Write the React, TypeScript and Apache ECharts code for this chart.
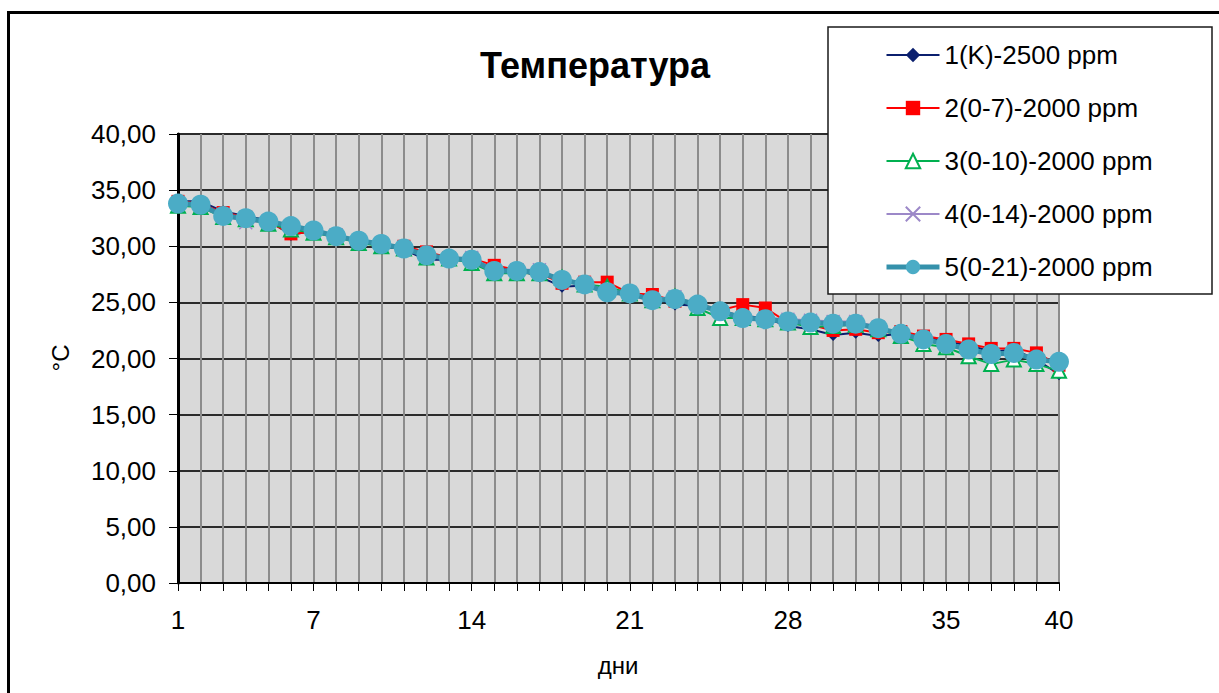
import { useEffect, useRef } from "react";
import * as echarts from "echarts";

// Days of the experiment (category axis)
const days = [
  "1", "2", "3", "4", "5", "6", "7", "8", "9", "10",
  "11", "12", "13", "14", "15", "16", "17", "18", "19", "20",
  "21", "22", "23", "24", "25", "26", "27", "28", "29", "30",
  "31", "32", "33", "34", "35", "36", "37", "38", "39", "40",
];
// Day labels printed under the axis
const labeledDays = ["1", "7", "14", "21", "28", "35", "40"];

// Temperature axis range, °C
const yMin = 0;
const yMax = 40;
const yStep = 5;

const seriesNames = [
  "1(K)-2500 ppm",
  "2(0-7)-2000 ppm",
  "3(0-10)-2000 ppm",
  "4(0-14)-2000 ppm",
  "5(0-21)-2000 ppm",
];

// Daily temperatures, °C
const tempK2500 = [
  34.0, 34.0, 33.1, 32.7, 32.3, 31.0, 31.4, 31.0, 30.5, 30.0,
  29.7, 28.8, 28.8, 28.7, 28.1, 27.9, 27.3, 26.4, 26.5, 26.0,
  25.5, 25.4, 24.8, 24.7, 24.2, 23.8, 23.6, 22.9, 22.6, 22.1,
  22.3, 22.0, 22.2, 22.0, 21.5, 21.2, 20.6, 20.8, 19.9, 18.6,
];
const temp0to7 = [
  34.0, 33.8, 33.0, 32.6, 32.2, 31.1, 31.3, 31.0, 30.5, 30.2,
  30.0, 29.5, 29.0, 28.9, 28.3, 27.9, 27.6, 26.7, 26.8, 26.8,
  25.8, 25.7, 25.1, 24.9, 24.3, 24.8, 24.5, 23.2, 23.0, 22.5,
  22.6, 22.3, 22.4, 22.0, 21.7, 21.3, 20.9, 20.9, 20.5, 19.4,
];
const temp0to10 = [
  33.6, 33.5, 32.6, 32.4, 32.0, 31.5, 31.2, 30.8, 30.3, 30.0,
  29.8, 29.0, 28.9, 28.5, 27.6, 27.6, 27.6, 27.2, 26.6, 26.4,
  25.8, 25.2, 25.5, 24.5, 23.6, 23.6, 23.5, 23.2, 22.8, 22.9,
  23.0, 22.6, 22.0, 21.3, 21.0, 20.2, 19.5, 19.9, 19.5, 18.9,
];
const temp0to14 = [
  33.8, 33.7, 32.8, 32.1, 32.3, 31.8, 31.4, 31.0, 30.5, 30.2,
  29.9, 29.2, 28.9, 29.0, 27.9, 27.9, 27.9, 27.0, 26.7, 26.0,
  25.9, 25.3, 25.5, 24.8, 24.2, 23.6, 23.6, 23.5, 23.4, 23.3,
  23.3, 22.8, 22.2, 21.7, 21.3, 20.8, 20.4, 20.5, 19.9, 19.7,
];
const temp0to21 = [
  33.8, 33.7, 32.7, 32.5, 32.2, 31.8, 31.4, 30.9, 30.5, 30.2,
  29.8, 29.2, 28.9, 28.8, 27.8, 27.8, 27.7, 27.0, 26.6, 25.9,
  25.8, 25.2, 25.3, 24.8, 24.2, 23.6, 23.5, 23.3, 23.2, 23.1,
  23.1, 22.7, 22.2, 21.7, 21.3, 20.8, 20.4, 20.5, 19.9, 19.7,
];

const FONT = "'Liberation Sans', Arial, sans-serif";

const navy = "#0B1F6E";
const red = "#FF0000";
const green = "#00B050";
const lavender = "#9C88C8";
const tealLine = "#3591AB";
const tealDot = "#4BACC6";

export default function App() {
  const ref = useRef<HTMLDivElement>(null);

  useEffect(() => {
    if (!ref.current) return;
    const chart = echarts.init(ref.current, undefined, { renderer: "svg" });

    const base = {
      type: "line" as const,
      showSymbol: true,
      showAllSymbol: true,
      smooth: false,
    };

    chart.setOption({
      animation: false,
      backgroundColor: "#ffffff",
      textStyle: { fontFamily: FONT },
      grid: {
        left: 178,
        right: 160,
        top: 134,
        bottom: 110,
        show: true,
        backgroundColor: "#D9D9D9",
        borderColor: "#000000",
        borderWidth: 2,
      },
      legend: {
        orient: "vertical",
        left: 884,
        top: 42,
        padding: 0,
        itemWidth: 53,
        itemHeight: 18,
        itemGap: 27,
        z: 10,
        textStyle: {
          fontFamily: FONT,
          fontSize: 26,
          color: "#000000",
          lineHeight: 26,
        },
        data: [
          { name: seriesNames[0], lineStyle: { width: 2 } },
          { name: seriesNames[1], lineStyle: { width: 2 } },
          { name: seriesNames[2], lineStyle: { width: 2 } },
          { name: seriesNames[3], lineStyle: { width: 2 } },
          { name: seriesNames[4], lineStyle: { width: 5, color: tealLine } },
        ],
      },
      xAxis: {
        type: "category",
        data: days,
        boundaryGap: false,
        axisLine: { lineStyle: { color: "#000000", width: 2 } },
        axisTick: {
          show: true,
          interval: 0,
          length: 8,
          lineStyle: { color: "#000000", width: 1 },
        },
        axisLabel: {
          interval: (_i: number, v: string) => labeledDays.includes(v),
          color: "#000000",
          fontSize: 26,
          fontFamily: FONT,
          margin: 24,
        },
        splitLine: {
          show: true,
          interval: 0,
          lineStyle: { color: "#8C8C8C", width: 2 },
        },
      },
      yAxis: {
        type: "value",
        min: yMin,
        max: yMax,
        interval: yStep,
        axisLine: { show: true, lineStyle: { color: "#000000", width: 3 } },
        axisTick: {
          show: true,
          length: 9,
          lineStyle: { color: "#000000", width: 1 },
        },
        axisLabel: {
          color: "#000000",
          fontSize: 26,
          fontFamily: FONT,
          margin: 22,
          formatter: (v: number) => v.toFixed(2).replace(".", ","),
        },
        splitLine: {
          show: true,
          lineStyle: { color: "#2b2b2b", width: 2 },
        },
      },
      graphic: [
        {
          type: "rect",
          z: 0,
          silent: true,
          shape: { x: 8.5, y: 12.5, width: 1260, height: 720 },
          style: { fill: "none", stroke: "#000000", lineWidth: 3 },
        },
        {
          type: "rect",
          z: 5,
          silent: true,
          shape: { x: 828, y: 27, width: 384, height: 267 },
          style: { fill: "#ffffff", stroke: "#1a1a1a", lineWidth: 1.5 },
        },
        {
          type: "text",
          z: 6,
          x: 595,
          y: 65,
          style: {
            text: "Температура",
            fontFamily: FONT,
            fontSize: 36,
            fontWeight: "bold",
            fill: "#000000",
            align: "center",
            verticalAlign: "middle",
          },
        },
        {
          type: "text",
          z: 6,
          x: 618,
          y: 665,
          style: {
            text: "дни",
            fontFamily: FONT,
            fontSize: 24,
            fill: "#000000",
            align: "center",
            verticalAlign: "middle",
          },
        },
        {
          type: "text",
          z: 6,
          x: 60,
          y: 358,
          rotation: Math.PI / 2,
          style: {
            text: "°C",
            fontFamily: FONT,
            fontSize: 24,
            fill: "#000000",
            align: "center",
            verticalAlign: "middle",
          },
        },
      ],
      series: [
        {
          ...base,
          name: seriesNames[0],
          data: tempK2500,
          symbol: "diamond",
          symbolSize: 12,
          z: 2,
          lineStyle: { color: navy, width: 2 },
          itemStyle: { color: navy },
        },
        {
          ...base,
          name: seriesNames[1],
          data: temp0to7,
          symbol: "rect",
          symbolSize: 13,
          z: 3,
          lineStyle: { color: red, width: 2 },
          itemStyle: { color: red },
        },
        {
          ...base,
          name: seriesNames[2],
          data: temp0to10,
          symbol: "triangle",
          symbolSize: 14,
          z: 4,
          lineStyle: { color: green, width: 2 },
          itemStyle: { color: "#ffffff", borderColor: green, borderWidth: 2 },
        },
        {
          ...base,
          name: seriesNames[3],
          data: temp0to14,
          symbol: "path://M0,0L10,10M10,0L0,10",
          symbolSize: 13,
          z: 5,
          lineStyle: { color: lavender, width: 2 },
          itemStyle: { color: lavender, borderColor: lavender, borderWidth: 1.5 },
        },
        {
          ...base,
          name: seriesNames[4],
          data: temp0to21,
          symbol: "circle",
          symbolSize: 20,
          z: 6,
          lineStyle: { color: tealLine, width: 5 },
          itemStyle: { color: tealDot },
        },
      ],
    });

    return () => chart.dispose();
  }, []);

  return (
    <div
      ref={ref}
      style={{ position: "absolute", left: 0, top: 0, width: 1219, height: 693 }}
    />
  );
}
